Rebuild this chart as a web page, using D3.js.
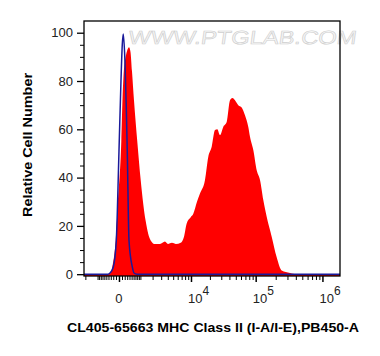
<!DOCTYPE html>
<html>
<head>
<meta charset="utf-8">
<script src="https://cdn.jsdelivr.net/npm/d3@7"></script>
<style>
  html, body { margin: 0; padding: 0; background: #fff; }
  svg { display: block; }
  text { font-family: "Liberation Sans", Arial, Helvetica, sans-serif; }
</style>
</head>
<body>
<svg id="chart" width="380" height="356"></svg>
<script>
// ---- Data (fluorescence value, relative cell number %) ----
const sampleX = [-2140, -422, -303, -238, -110, -32, 76, 117, 154, 191, 238, 312, 377, 446, 518, 620, 805, 1019, 1382, 1813, 2249, 2843, 3548, 4033, 4764, 5602, 6745, 7666, 8500, 9888, 10900, 12500, 13960, 16745, 18880, 21330, 24000, 26050, 28670, 32220, 36330, 40800, 44550, 48630, 54580, 61470, 68970, 77380, 82070, 92060, 103600, 116150, 130200, 146400, 174100, 206900, 245900, 327600, 402500, 1830000];
const sampleY = [0, 0, 0.5, 3, 14, 30, 55, 72, 82, 87, 90, 93, 94, 92, 84, 72, 55, 39, 22, 14, 12.5, 12.5, 13.5, 12.5, 13, 12.5, 13, 15.5, 21, 23.6, 25, 30, 33.4, 39, 48.6, 52.8, 59.7, 60, 57.6, 61, 63, 72, 73, 72, 70, 69, 65.8, 61, 56.9, 51.4, 43, 39, 30.7, 23.8, 15.5, 7, 1.5, 0.5, 0, 0];

const controlX = [-2140, -422, -333, -199, -89, 0, 65, 110, 146, 210, 260, 303, 377, 533, 620, 787, 1830000];
const controlY = [0, 0, 0.5, 3, 14, 51, 80, 95, 99.5, 88, 70, 51, 14, 3, 0.5, 0, 0];

const yTickValues = [0, 20, 40, 60, 80, 100];
const xTickValues = [0, 1e4, 1e5, 1e6];
const xTickLabels = ["0", "10|4", "10|5", "10|6"];
const xTitle = "CL405-65663 MHC Class II (I-A/I-E),PB450-A";
const yTitle = "Relative Cell Number";
const watermark = "WWW.PTGLAB.COM";

// ---- Scales ----
const svg = d3.select("#chart");
const pLeft = 84, pRight = 340, pTop = 21, pBottom = 276;

const x = d3.scaleSymlog().constant(919).domain([-2140, 1830000]).range([pLeft, pRight]);
const y = d3.scaleLinear().domain([-0.75, 104.85]).range([pBottom, pTop]);

svg.append("rect").attr("width", 380).attr("height", 356).attr("fill", "#fff");

// ---- Watermark ----
svg.append("text")
  .attr("x", 128).attr("y", 44)
  .attr("font-size", 19)
  .attr("textLength", 228)
  .attr("lengthAdjust", "spacingAndGlyphs")
  .attr("fill", "#f6f6f6")
  .attr("stroke", "#cfcfcf")
  .attr("stroke-width", 0.6)
  .attr("transform", "skewX(-8) translate(6,0)")
  .text(watermark);

// ---- Sample (red filled) ----
const area = d3.area()
  .x((d, i) => x(sampleX[i]))
  .y0(y(-0.75))
  .y1((d, i) => y(sampleY[i]))
  .curve(d3.curveMonotoneX);
svg.append("path")
  .datum(sampleX)
  .attr("d", area)
  .attr("fill", "#ff0000");

// ---- Control (blue line) ----
const line = d3.line()
  .x((d, i) => x(controlX[i]))
  .y((d, i) => y(controlY[i]))
  .curve(d3.curveMonotoneX);
svg.append("path")
  .datum(controlX)
  .attr("d", line)
  .attr("fill", "none")
  .attr("stroke", "#1a1a9a")
  .attr("stroke-width", 1.5);

// ---- Frame ----
svg.append("rect")
  .attr("x", pLeft).attr("y", pTop)
  .attr("width", pRight - pLeft).attr("height", pBottom - pTop)
  .attr("fill", "none").attr("stroke", "#000").attr("stroke-width", 1.3);

// ---- Y axis ----
const yMinor = d3.range(0, 105, 5).filter(v => v % 20 !== 0);
const yAxis = d3.axisLeft(y).tickValues(yTickValues).tickSize(7).tickPadding(4).tickFormat(d3.format("d"));
const gy = svg.append("g").attr("transform", `translate(${pLeft},0)`).call(yAxis);
gy.select(".domain").remove();
gy.selectAll("line").attr("stroke", "#000").attr("stroke-width", 1.3);
gy.selectAll("text").attr("font-size", 13).attr("fill", "#222")
  .attr("font-family", "'Liberation Sans', Arial, sans-serif");
const yAxisMinor = d3.axisLeft(y).tickValues(yMinor).tickSize(4).tickFormat("");
const gym = svg.append("g").attr("transform", `translate(${pLeft},0)`).call(yAxisMinor);
gym.select(".domain").remove();
gym.selectAll("line").attr("stroke", "#000");

// ---- X axis ----
let xMinor = [];
for (let k = 1; k <= 9; k++) xMinor.push(-k * 100);
xMinor.push(-1000, -2000);
for (let n = 2; n <= 5; n++) for (let k = 1; k <= 9; k++) xMinor.push(k * Math.pow(10, n));
xMinor = xMinor.filter(v => !xTickValues.includes(v));

const xAxisMinor = d3.axisBottom(x).tickValues(xMinor).tickSize(4).tickFormat("");
const gxm = svg.append("g").attr("transform", `translate(0,${pBottom})`).call(xAxisMinor);
gxm.select(".domain").remove();
gxm.selectAll("line").attr("stroke", "#000");

const xAxis = d3.axisBottom(x).tickValues(xTickValues).tickSize(6).tickFormat("");
const gx = svg.append("g").attr("transform", `translate(0,${pBottom})`).call(xAxis);
gx.select(".domain").remove();
gx.selectAll("line").attr("stroke", "#000").attr("stroke-width", 1.5);

xTickValues.forEach((v, i) => {
  const parts = xTickLabels[i].split("|");
  if (parts.length === 1) {
    svg.append("text").attr("x", x(v)).attr("y", 303)
      .attr("text-anchor", "middle").attr("font-size", 13).attr("fill", "#222")
      .text(parts[0]);
  } else {
    const t = svg.append("text").attr("x", x(v) - 3).attr("y", 303)
      .attr("font-size", 13).attr("fill", "#222");
    t.append("tspan").text(parts[0]);
    t.append("tspan").attr("dy", -8).attr("font-size", 12).text(parts[1]);
  }
});

// ---- Titles ----
svg.append("text")
  .attr("x", 67).attr("y", 332)
  .attr("font-size", 12.5).attr("font-weight", "bold").attr("fill", "#000")
  .attr("textLength", 292).attr("lengthAdjust", "spacingAndGlyphs")
  .text(xTitle);

svg.append("text")
  .attr("transform", "translate(32,217) rotate(-90)")
  .attr("font-size", 12.5).attr("font-weight", "bold").attr("fill", "#000")
  .attr("textLength", 144).attr("lengthAdjust", "spacingAndGlyphs")
  .text(yTitle);
</script>
</body>
</html>
